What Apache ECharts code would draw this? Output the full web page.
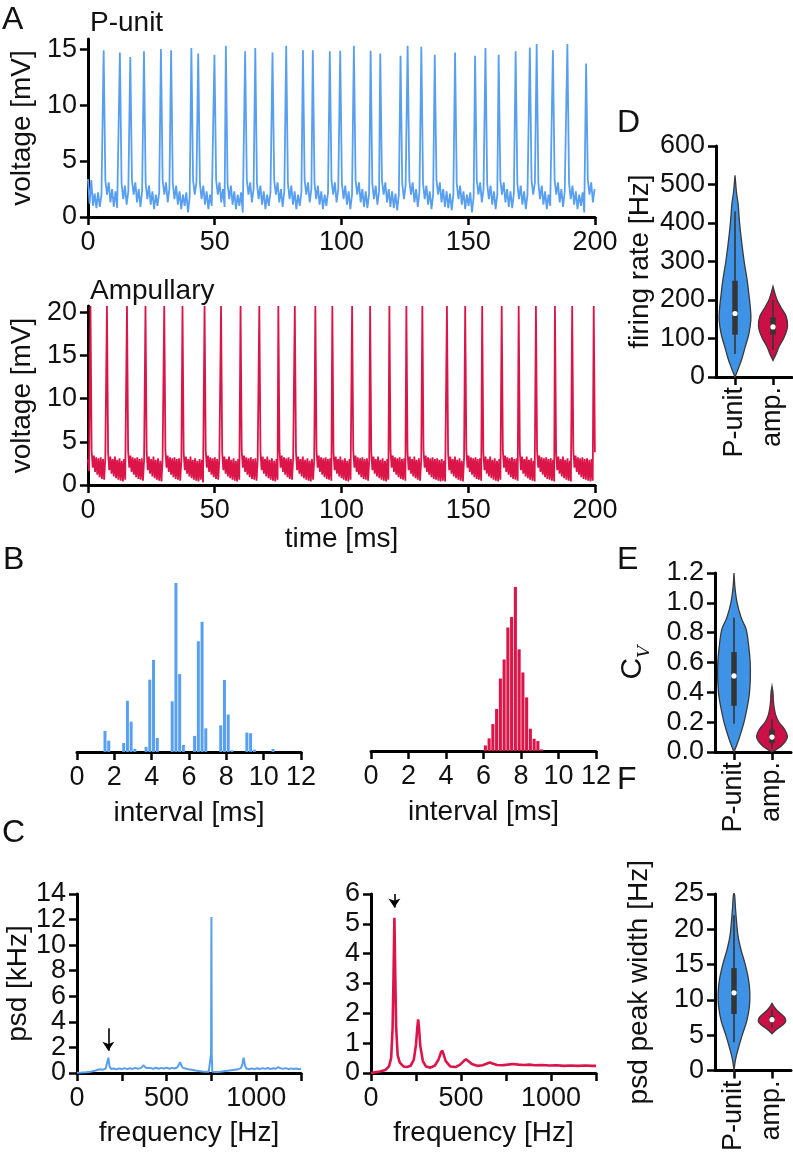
<!DOCTYPE html>
<html><head><meta charset="utf-8">
<script src="https://cdn.jsdelivr.net/npm/echarts@6/dist/echarts.min.js"></script>
<style>html,body{margin:0;padding:0;background:#fff}#c{width:793px;height:1154px}</style>
</head><body><div id="c"></div>
<script>
// ---------- Panel A: voltage traces ----------
const puSpikeT = [6.2,12.6,16.7,22.1,28.8,32.8,40.8,43.5,49.9,54.4,62.0,66.0,72.8,78.2,84.8,88.7,95.4,99.5,104.9,111.5,115.3,123.3,126.1,131.5,136.8,144.8,152.7,156.8,162.0,168.7,174.3,177.0,183.4,189.1,196.5];
const puSpikeV = [14.9,14.7,14.3,14.8,15.0,14.9,15.1,14.6,14.5,15.3,14.8,15.1,14.7,15.3,14.9,14.9,14.8,14.85,15.3,14.85,14.6,14.4,15.3,15.2,14.5,14.7,14.4,15.1,14.5,14.8,15.15,15.45,14.9,15.45,13.7];
const puPre = [3.4,1.2,3.3,1.0,2.1,0.8,2.2,0.9,2.0];
const puAfterA = [3.3,2.0,3.1,1.3,2.5,0.9,2.3,0.8,2.1,0.6,2.0,0.5,1.9,0.6,2.0];
const puAfterB = [3.0,1.6,2.8,1.1,2.3,0.7,2.0,1.0,2.2,0.4,1.8,0.7,2.1,0.5,1.9];
const puDt = 0.667;

const amSpikeT = [1.0,7.5,15.4,22.7,30.1,37.3,46.0,52.5,60.2,67.6,75.1,81.6,89.7,96.4,104.2,111.3,118.9,125.6,131.9,141.6,148.8,155.5,163.2,169.9,176.7,184.2,191.0,199.5];
const amSpikeV = [20.7,20.7,20.7,20.7,20.7,20.7,20.7,20.7,20.7,20.7,20.7,20.7,20.7,20.7,20.7,20.7,20.7,20.7,20.7,20.7,20.7,20.7,20.7,20.7,20.7,20.7,20.7,20.7];
const amPre = [3.0,1.6];
const amAfterA = [4.0,2.0,3.4,1.5,3.2,1.2,3.1,0.9,3.2,0.7,3.0,0.6,3.1,0.5,2.9,0.4,3.0,0.5,2.8,0.4,2.9,0.3];
const amAfterB = [3.8,1.7,3.3,1.3,3.0,1.0,3.3,0.8,2.9,0.6,3.1,0.5,2.8,0.4,3.0,0.6,2.9,0.3,3.0,0.4,2.8,0.5];
const amDt = 0.45;

const timeTicks = [0,50,100,150,200];
const puVTicks = [0,5,10,15];
const amVTicks = [0,5,10,15,20];

// ---------- Panel B: ISI histograms ----------
const isiPuX = [1.5,1.7,2.5,2.7,2.9,3.1,3.7,3.9,4.1,4.3,5.1,5.3,5.5,5.7,6.3,6.5,6.7,6.9,7.7,7.9,8.1,8.3,9.1,9.3,9.5,10.5];
const isiPuY = [0.125,0.067,0.053,0.303,0.18,0.018,0.03,0.428,0.545,0.083,0.30,1.0,0.461,0.042,0.095,0.655,0.77,0.14,0.158,0.426,0.222,0.01,0.115,0.111,0.014,0.018];
const isiAmX = [6.1,6.3,6.5,6.7,6.9,7.1,7.3,7.5,7.7,7.9,8.1,8.3,8.5,8.7,8.9,9.1];
const isiAmY = [0.034,0.077,0.164,0.256,0.442,0.558,0.753,0.817,1.0,0.62,0.479,0.327,0.136,0.075,0.061,0.01];
const isiTicks = [0,2,4,6,8,10,12];

// ---------- Panel C: power spectra ----------
const psdPu = [[0,0.02],[25,0.03],[50,0.05],[75,0.1],[100,0.18],[115,0.25],[130,0.3],[145,0.26],[160,0.35],[168,0.5],[175,1.2],[182,0.5],[190,0.32],[205,0.35],[220,0.28],[235,0.36],[250,0.3],[265,0.38],[280,0.3],[295,0.37],[310,0.32],[325,0.4],[340,0.33],[355,0.38],[365,0.45],[372,0.6],[378,0.55],[385,0.4],[395,0.33],[410,0.4],[425,0.32],[440,0.41],[455,0.33],[470,0.4],[485,0.35],[500,0.42],[515,0.33],[530,0.4],[545,0.35],[560,0.45],[568,0.65],[575,0.85],[582,0.6],[590,0.4],[605,0.35],[620,0.3],[640,0.25],[660,0.2],[680,0.15],[700,0.12],[720,0.1],[735,0.09],[745,0.12],[748,1.5],[750,12.2],[752,1.5],[755,0.1],[765,0.06],[780,0.07],[800,0.1],[820,0.14],[840,0.18],[860,0.22],[880,0.26],[900,0.3],[915,0.38],[923,0.7],[930,1.2],[937,0.6],[945,0.35],[960,0.3],[975,0.36],[990,0.3],[1005,0.37],[1020,0.31],[1035,0.38],[1050,0.32],[1065,0.39],[1080,0.3],[1095,0.37],[1110,0.33],[1122,0.45],[1128,0.5],[1135,0.38],[1150,0.32],[1165,0.38],[1180,0.3],[1195,0.36],[1210,0.31],[1225,0.35],[1240,0.3],[1250,0.33]];
const psdAm = [[0,0.0],[20,0.02],[50,0.05],[80,0.1],[100,0.22],[112,0.5],[120,1.5],[125,3.2],[130,5.2],[135,3.2],[140,1.5],[148,0.6],[160,0.35],[180,0.22],[200,0.2],[220,0.24],[238,0.45],[250,0.95],[257,1.5],[262,1.8],[267,1.5],[274,0.9],[288,0.4],[305,0.22],[330,0.18],[355,0.25],[375,0.45],[388,0.68],[395,0.75],[402,0.65],[415,0.4],[440,0.22],[470,0.2],[495,0.28],[515,0.4],[528,0.46],[540,0.4],[560,0.3],[590,0.24],[620,0.26],[645,0.32],[660,0.35],[675,0.32],[700,0.27],[730,0.26],[760,0.28],[790,0.3],[820,0.28],[850,0.27],[880,0.28],[910,0.26],[950,0.27],[990,0.25],[1030,0.26],[1070,0.24],[1110,0.25],[1150,0.24],[1190,0.25],[1230,0.24],[1250,0.24]];
const arrowPu = [175, 3.5, 1.75];   // freq, from, to
const arrowAm = [130, 6.0, 5.55];
const freqLabelTicks = [0,500,1000];
const freqTicks = [0,250,500,750,1000,1250];
const psdPuTicks = [0,2,4,6,8,10,12,14];
const psdPuLabelsA = [0,4,8,12];
const psdPuLabelsB = [2,6,10,14];
const psdAmTicks = [0,1,2,3,4,5,6];

// ---------- Panels D-F: violins ----------
const violinCats = ['P-unit','amp.'];
const rateTicks = [0,100,200,300,400,500,600];
const rateVPuY = [524,480,450,400,350,300,250,218,180,148,110,79,50,27,0];
const rateVPuD = [0,0.09,0.19,0.28,0.41,0.56,0.75,0.84,0.94,0.97,0.84,0.63,0.44,0.25,0];
const rateVPuStats = [60,110,165,250,430];
const rateVAmY = [235,215,200,180,157,131,110,97,80,62,43];
const rateVAmD = [0,0.13,0.25,0.5,0.81,0.89,0.75,0.61,0.38,0.21,0];
const rateVAmStats = [70,110,130,155,200];

const cvTicks = [0,0.2,0.4,0.6,0.8,1.0,1.2];
const cvPuY = [1.2,1.1,1.0,0.9,0.82,0.7,0.6,0.5,0.39,0.3,0.19,0.08,0];
const cvPuD = [0,0.06,0.19,0.44,0.75,0.91,0.99,1.0,0.94,0.81,0.59,0.28,0];
const cvPuStats = [0.19,0.31,0.51,0.67,0.9];
const cvAmY = [0.44,0.4,0.35,0.3,0.25,0.2,0.15,0.1,0.05,0.02,0];
const cvAmD = [0,0.06,0.08,0.13,0.22,0.42,0.78,0.94,0.66,0.31,0];
const cvAmStats = [0.02,0.06,0.1,0.15,0.22];

const pwTicks = [0,5,10,15,20,25];
const pwPuY = [25,23,21,19,17,15,13,11,9,7,5,3,1.5,0];
const pwPuD = [0.03,0.09,0.16,0.25,0.44,0.69,0.88,0.97,0.94,0.78,0.5,0.25,0.09,0];
const pwPuStats = [4,8,11,14.5,22];
const pwAmY = [9.5,9,8.5,8,7.5,7,6.5,6,5.5,5.2];
const pwAmD = [0,0.13,0.31,0.56,0.78,0.84,0.69,0.38,0.13,0];
const pwAmStats = [6,6.8,7.2,7.7,8.6];

// ---------- styling ----------
const FONT = '"Liberation Sans", Arial, Helvetica, sans-serif';
const BLUE = '#589ff0', RED = '#dc1549';
const BLUE_V = '#3e93e6', RED_V = '#cc0f47';

function buildTrace(pre, spT, spV, profiles, dt, tEnd) {
  const out = [];
  pre.forEach((v, i) => { const t = i * dt; if (t < spT[0] - dt * 0.5) out.push([+t.toFixed(3), v]); });
  for (let i = 0; i < spT.length; i++) {
    const ts = spT[i];
    out.push([ts, spV[i]]);
    const next = i + 1 < spT.length ? spT[i + 1] : tEnd + 10;
    const prof = profiles[i % profiles.length];
    for (let k = 1; k <= prof.length; k++) {
      const t = ts + k * dt;
      if (t > next - dt * 0.6 || t > tEnd) break;
      out.push([+t.toFixed(3), prof[k - 1]]);
    }
  }
  return out;
}
const puTrace = buildTrace(puPre, puSpikeT, puSpikeV, [puAfterA, puAfterB], puDt, 200);
const amTrace = buildTrace(amPre, amSpikeT, amSpikeV, [amAfterA, amAfterB], amDt, 200);

const axLine = {show: true, onZero: false, lineStyle: {color: '#000', width: 3}};
const axTick = {show: true, inside: false, length: 8, lineStyle: {color: '#000', width: 2.5}};
const lbl = (extra) => Object.assign({color: '#111', fontSize: 27, fontFamily: FONT,
  showMinLabel: true, showMaxLabel: true, hideOverlap: false}, extra || {});
const nameStyle = {color: '#111', fontSize: 28, fontFamily: FONT};
const plain = (v) => String(Math.round(v * 100) / 100);

function valX(grid, max, interval, labelVals, tickVals, name, gap) {
  return {
    gridIndex: grid, type: 'value', min: 0, max: max, interval: interval,
    axisLine: axLine, splitLine: {show: false},
    axisTick: Object.assign({}, axTick, {customValues: tickVals || labelVals}),
    axisLabel: lbl({margin: 12, customValues: labelVals, formatter: plain}),
    name: name || '', nameLocation: 'middle', nameGap: gap || 40, nameTextStyle: nameStyle
  };
}
function valY(grid, max, interval, ticks, name, gap, fmt, nameTS, labelVals) {
  return {
    gridIndex: grid, type: 'value', min: 0, max: max, interval: interval, position: 'left',
    axisLine: axLine, splitLine: {show: false},
    axisTick: Object.assign({}, axTick, {customValues: ticks}),
    axisLabel: lbl({margin: 11, customValues: labelVals || ticks, formatter: fmt || plain}),
    name: name || '', nameLocation: 'middle', nameGap: gap || 48, nameRotate: 90,
    nameTextStyle: nameTS || nameStyle
  };
}
function catX(grid) {
  return {
    gridIndex: grid, type: 'category', data: violinCats, boundaryGap: true,
    axisLine: axLine, axisTick: Object.assign({}, axTick, {alignWithLabel: true}),
    axisLabel: lbl({rotate: 90, margin: 10, interval: 0}), splitLine: {show: false}
  };
}

function violinSeries(grid, list) {
  return {
    type: 'custom', xAxisIndex: grid, yAxisIndex: grid, silent: true, animation: false,
    data: list.map((v, i) => [i, 0]),
    encode: {x: 0, y: 1},
    renderItem: function (params, api) {
      const v = list[params.dataIndex];
      const idx = api.value(0);
      const cx = api.coord([idx, 0])[0];
      const band = api.size([1, 0])[0];
      const s = band * 0.43;
      const yy = (q) => api.coord([idx, q])[1];
      const right = v.y.map((y, i) => [cx + v.d[i] * s, yy(y)]);
      const left = v.y.map((y, i) => [cx - v.d[i] * s, yy(y)]).reverse();
      return {type: 'group', children: [
        {type: 'polygon', shape: {points: right.concat(left), smooth: 0.35},
          style: {fill: v.color, stroke: '#3a3a3a', lineWidth: 1.3}},
        {type: 'line', shape: {x1: cx, y1: yy(v.st[0]), x2: cx, y2: yy(v.st[4])},
          style: {stroke: '#353535', lineWidth: 1.6}},
        {type: 'line', shape: {x1: cx, y1: yy(v.st[1]), x2: cx, y2: yy(v.st[3])},
          style: {stroke: '#353535', lineWidth: 5.5}},
        {type: 'circle', shape: {cx: cx, cy: yy(v.st[2]), r: 2.6}, style: {fill: '#fff'}}
      ]};
    }
  };
}

function arrowMark(a) {
  return {
    silent: true, animation: false, symbol: ['none', 'arrow'], symbolSize: 9,
    lineStyle: {color: '#000', width: 1.6, type: 'solid'}, label: {show: false},
    emphasis: {disabled: true},
    data: [[{coord: [a[0], a[1]]}, {coord: [a[0], a[2]]}]]
  };
}

const grids = [
  {left: 77, top: 39, width: 518, height: 178},
  {left: 77, top: 306, width: 518, height: 179},
  {left: 77, top: 583, width: 224, height: 169},
  {left: 371, top: 587, width: 225, height: 164},
  {left: 77, top: 894, width: 224, height: 179},
  {left: 371, top: 894, width: 225, height: 179},
  {left: 716, top: 146, width: 76, height: 231},
  {left: 715, top: 573, width: 76, height: 179},
  {left: 715, top: 894, width: 76, height: 179}
];

// second label-only axis for the dense psd ticks (same scale as yAxis 4)
const psdLabelAxisB = valY(4, 14, 2, psdPuTicks, '', 44, null, null, psdPuLabelsB);
psdLabelAxisB.axisLine = {show: false};
psdLabelAxisB.axisTick = {show: false};

const option = {
  animation: false,
  backgroundColor: '#fff',
  textStyle: {fontFamily: FONT},
  grid: grids,
  xAxis: [
    valX(0, 200, 50, timeTicks),
    valX(1, 200, 50, timeTicks, null, 'time [ms]', 40),
    valX(2, 12, 2, isiTicks, null, 'interval [ms]', 47),
    valX(3, 12, 2, isiTicks, null, 'interval [ms]', 47),
    valX(4, 1250, 250, freqLabelTicks, freqTicks, 'frequency [Hz]', 46),
    valX(5, 1250, 250, freqLabelTicks, freqTicks, 'frequency [Hz]', 46),
    catX(6), catX(7), catX(8)
  ],
  yAxis: [
    valY(0, 15.9, 5, puVTicks, 'voltage [mV]', 48),
    valY(1, 20.7, 5, amVTicks, 'voltage [mV]', 48),
    {gridIndex: 2, type: 'value', min: 0, max: 1, show: false},
    {gridIndex: 3, type: 'value', min: 0, max: 1, show: false},
    valY(4, 14, 2, psdPuTicks, 'psd [kHz]', 44, null, null, psdPuLabelsA),
    valY(5, 6, 1, psdAmTicks),
    valY(6, 600, 100, rateTicks, 'firing rate [Hz]', 62),
    valY(7, 1.2, 0.2, cvTicks, '{c|C}{v|V}', 62, (v) => v.toFixed(1),
      {color: '#111', fontFamily: FONT, rich: {
        c: {fontSize: 30, fontFamily: FONT, color: '#111', lineHeight: 40, verticalAlign: 'middle'},
        v: {fontSize: 17, fontFamily: 'DejaVu Serif, serif', fontStyle: 'italic', color: '#111', lineHeight: 40, verticalAlign: 'bottom'}}}),
    valY(8, 25, 5, pwTicks, 'psd peak width [Hz]', 62),
    psdLabelAxisB
  ],
  graphic: [
    {type: 'text', left: 2, top: 4, style: {text: 'A', font: '32px ' + FONT, fill: '#111'}},
    {type: 'text', left: 3, top: 544, style: {text: 'B', font: '32px ' + FONT, fill: '#111'}},
    {type: 'text', left: 2, top: 817, style: {text: 'C', font: '32px ' + FONT, fill: '#111'}},
    {type: 'text', left: 617, top: 107, style: {text: 'D', font: '32px ' + FONT, fill: '#111'}},
    {type: 'text', left: 617, top: 544, style: {text: 'E', font: '32px ' + FONT, fill: '#111'}},
    {type: 'text', left: 617, top: 764, style: {text: 'F', font: '32px ' + FONT, fill: '#111'}},
    {type: 'text', left: 90, top: 9, style: {text: 'P-unit', font: '28px ' + FONT, fill: '#111'}},
    {type: 'text', left: 90, top: 277, style: {text: 'Ampullary', font: '28px ' + FONT, fill: '#111'}}
  ],
  series: [
    {type: 'line', xAxisIndex: 0, yAxisIndex: 0, data: puTrace, showSymbol: false, symbol: 'none',
      lineStyle: {color: BLUE, width: 1.8}, silent: true, clip: true},
    {type: 'line', xAxisIndex: 1, yAxisIndex: 1, data: amTrace, showSymbol: false, symbol: 'none',
      lineStyle: {color: RED, width: 1.8}, silent: true, clip: true},
    {type: 'bar', xAxisIndex: 2, yAxisIndex: 2, data: isiPuX.map((x, i) => [x, isiPuY[i]]),
      barWidth: 3, itemStyle: {color: BLUE}, silent: true},
    {type: 'bar', xAxisIndex: 3, yAxisIndex: 3, data: isiAmX.map((x, i) => [x, isiAmY[i]]),
      barWidth: 3.1, itemStyle: {color: RED}, silent: true},
    {type: 'line', xAxisIndex: 4, yAxisIndex: 4, data: psdPu, showSymbol: false, symbol: 'none',
      lineStyle: {color: BLUE, width: 2}, silent: true, markLine: arrowMark(arrowPu)},
    {type: 'line', xAxisIndex: 5, yAxisIndex: 5, data: psdAm, showSymbol: false, symbol: 'none',
      lineStyle: {color: RED, width: 2.6}, silent: true, markLine: arrowMark(arrowAm)},
    violinSeries(6, [
      {y: rateVPuY, d: rateVPuD, st: rateVPuStats, color: BLUE_V},
      {y: rateVAmY, d: rateVAmD, st: rateVAmStats, color: RED_V}]),
    violinSeries(7, [
      {y: cvPuY, d: cvPuD, st: cvPuStats, color: BLUE_V},
      {y: cvAmY, d: cvAmD, st: cvAmStats, color: RED_V}]),
    violinSeries(8, [
      {y: pwPuY, d: pwPuD, st: pwPuStats, color: BLUE_V},
      {y: pwAmY, d: pwAmD, st: pwAmStats, color: RED_V}])
  ]
};

const chart = echarts.init(document.getElementById('c'), null, {renderer: 'canvas', width: 793, height: 1154});
chart.setOption(option);
</script></body></html>
